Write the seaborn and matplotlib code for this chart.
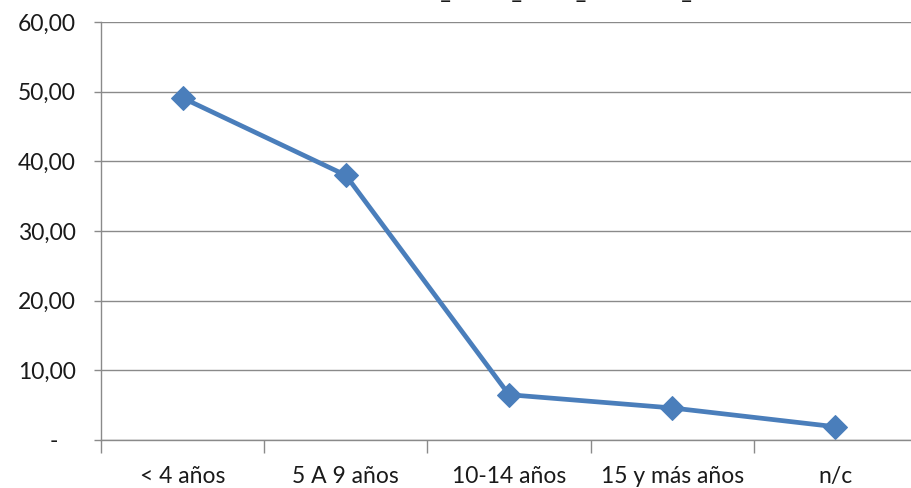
import matplotlib
matplotlib.use("Agg")
import matplotlib.pyplot as plt
import seaborn as sns
import pandas as pd
from matplotlib.ticker import FixedLocator, NullFormatter, FixedFormatter

categorias = ["< 4 años", "5 A 9 años", "10-14 años", "15 y más años", "n/c"]
porcentajes = [49.1, 38.0, 6.5, 4.6, 1.9]
y_ticks = [0, 10, 20, 30, 40, 50, 60]
y_labels = ["-   ", "10,00", "20,00", "30,00", "40,00", "50,00", "60,00"]
titulo = "Residencia_media_anual_en el aula_actual"

sns.set_theme(style="white")
plt.rcParams["font.family"] = ["Lato", "DejaVu Sans"]

df = pd.DataFrame({"categoria": categorias, "valor": porcentajes})

fig = plt.figure(figsize=(9.11, 4.88), dpi=100)
ax = fig.add_axes([101 / 911, 1 - 440 / 488, 816 / 911, 418 / 488])

line_color = "#4A7EBB"
sns.lineplot(data=df, x="categoria", y="valor", sort=False, ax=ax,
             color=line_color, linewidth=3.4, marker="D", markersize=12.5,
             markeredgecolor=line_color, markerfacecolor=line_color)

grid_color = "#8A8A8A"
text_color = "#1a1a1a"
fs = 16.5
ax.set_ylim(0, 60)
ax.set_xlim(-0.5, len(categorias) - 0.5)
ax.set_yticks(y_ticks)
ax.set_yticklabels(y_labels)
ax.yaxis.grid(True, color=grid_color, linewidth=1.0)
ax.xaxis.grid(False)
ax.set_axisbelow(True)

# Category boundaries carry the tick marks; labels sit at category centres
bounds = [i - 0.5 for i in range(len(categorias) + 1)]
ax.xaxis.set_major_locator(FixedLocator(bounds))
ax.xaxis.set_major_formatter(NullFormatter())
ax.xaxis.set_minor_locator(FixedLocator(list(range(len(categorias)))))
ax.xaxis.set_minor_formatter(FixedFormatter(categorias))
ax.tick_params(axis="x", which="major", length=9, width=1.0, color=grid_color,
               direction="out", bottom=True)
ax.tick_params(axis="x", which="minor", length=0, pad=31, labelsize=fs,
               labelcolor=text_color)
for lbl in ax.xaxis.get_minorticklabels():
    lbl.set_verticalalignment("baseline")
ax.tick_params(axis="y", length=5, width=1.0, color=grid_color, direction="out",
               left=True, pad=13, labelsize=fs, labelcolor=text_color)

for side in ["top", "right"]:
    ax.spines[side].set_visible(False)
for side in ["left", "bottom"]:
    ax.spines[side].set_color(grid_color)
    ax.spines[side].set_linewidth(1.0)

ax.set_xlabel("")
ax.set_ylabel("")

# Chart title sits just above the top edge of the canvas
fig.text(0.5956, 1 + 0.5 / 488, titulo, ha="center", va="baseline",
         fontsize=fs, color=text_color)

fig.savefig("out.png", dpi=100)
